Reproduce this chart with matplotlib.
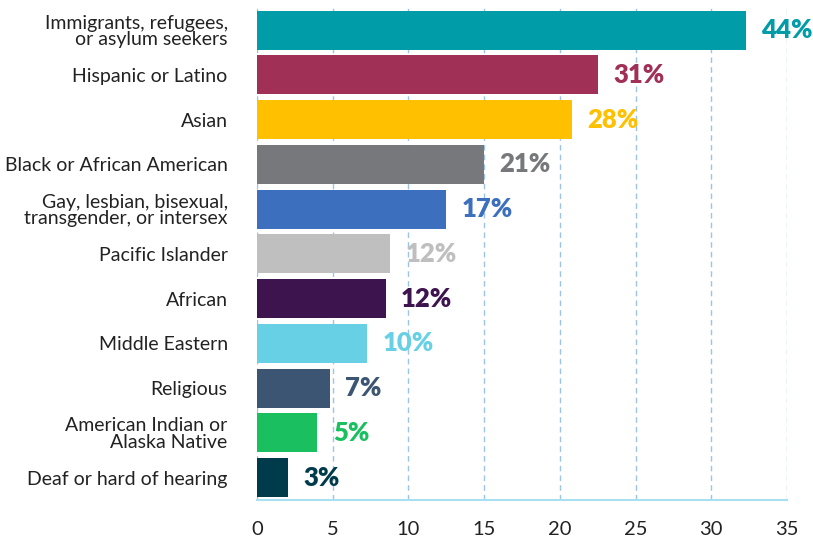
import matplotlib.pyplot as plt

categories = [
    "Immigrants, refugees,\nor asylum seekers",
    "Hispanic or Latino",
    "Asian",
    "Black or African American",
    "Gay, lesbian, bisexual,\ntransgender, or intersex",
    "Pacific Islander",
    "African",
    "Middle Eastern",
    "Religious",
    "American Indian or\nAlaska Native",
    "Deaf or hard of hearing",
]
values = [32.3, 22.5, 20.8, 15.0, 12.5, 8.8, 8.5, 7.3, 4.8, 4.0, 2.05]
value_labels = ["44%", "31%", "28%", "21%", "17%", "12%", "12%", "10%", "7%", "5%", "3%"]
colors = ["#009ca8", "#a03055", "#ffc000", "#77787b", "#3d6fbf", "#bfbfbf",
          "#3e144f", "#67d0e4", "#3b5573", "#1abf60", "#003b4c"]
xticks = [0, 5, 10, 15, 20, 25, 30, 35]

plt.rcParams["font.family"] = ["Lato", "DejaVu Sans"]

fig = plt.figure(figsize=(8.13, 5.39), dpi=100)
ax = fig.add_axes([0.316, 0.0724, 0.652, 0.9183])

ypos = list(range(len(categories)))
ax.barh(ypos, values, height=0.87, color=colors, zorder=3)

for y, v, lab, c in zip(ypos, values, value_labels, colors):
    ax.annotate(lab, (v, y), xytext=(11, 0), textcoords="offset points",
                ha="left", va="center", fontsize=18.5, fontweight="heavy", color=c)

ax.set_xlim(0, 35)
ax.set_ylim(10.5, -0.56)
ax.set_xticks(xticks)
ax.set_yticks(ypos)
ax.set_yticklabels(categories, fontsize=14, color="#222222", linespacing=0.95)
ax.tick_params(axis="y", length=0, pad=21)
ax.tick_params(axis="x", length=0, labelsize=14.5, labelcolor="#222222", pad=15)

ax.grid(axis="x", color="#9dc3e6", linestyle=(0, (4, 3)), linewidth=1, zorder=0)
for s in ["top", "right", "left"]:
    ax.spines[s].set_visible(False)
ax.spines["bottom"].set_color("#a8e0f2")
ax.spines["bottom"].set_linewidth(1.5)

fig.savefig("out.png", dpi=100)
